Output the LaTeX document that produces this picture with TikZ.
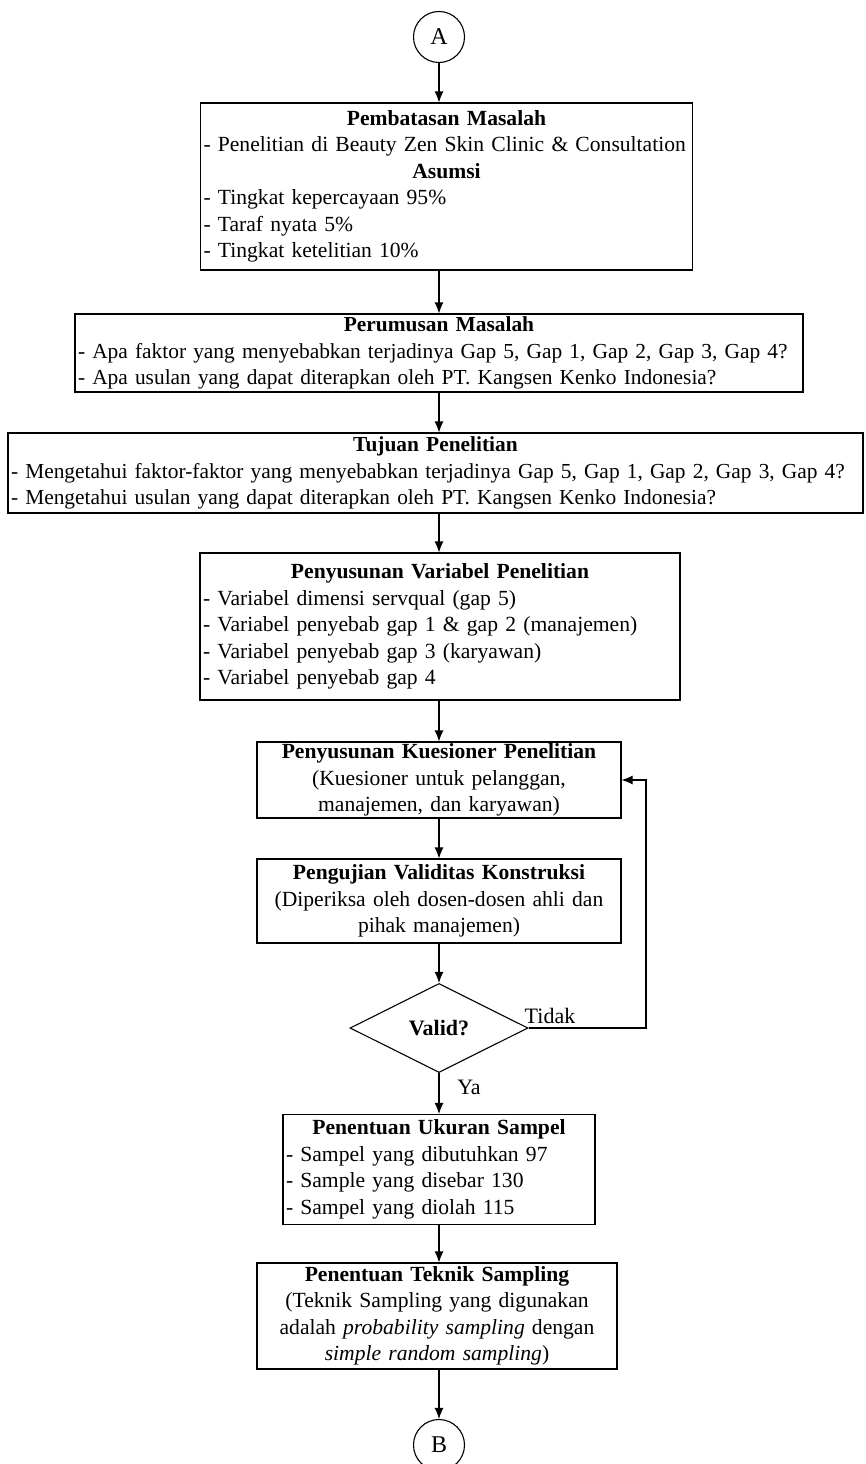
\documentclass[tikz,border=0pt]{standalone}
\usepackage{fontspec}
\setmainfont{Liberation Serif}
\usetikzlibrary{arrows.meta,shapes.geometric}
\newcommand{\judul}[1]{{\centering\textbf{#1}\par}}
\newcommand{\hurufkotak}[1]{\fontsize{#1}{26.5}\selectfont\hyphenpenalty10000\relax}

\begin{document}
\begin{tikzpicture}[x=1pt,y=-1pt,line width=1.1pt,>={Latex[length=11pt,width=9pt]},
  kotak/.style={draw,inner xsep=3pt,inner ysep=0pt,align=left,font=\hurufkotak{21.6}},
  kotaksempit/.style={kotak,font=\hurufkotak{21.4}},
  tengah/.style={kotak,align=center},
  konektor/.style={draw,circle,minimum size=51pt,inner sep=0pt,font=\hurufkotak{24}}]
  \useasboundingbox (0,0) rectangle (865,1464);
  \node[konektor] (A) at (439,37) {A};
  \node[kotak,text width=486pt,minimum height=167pt] (batas) at (446.5,186.5) {\judul{Pembatasan Masalah}- Penelitian di Beauty Zen Skin Clinic \& Consultation\par\judul{Asumsi}- Tingkat kepercayaan 95\%\\- Taraf nyata 5\%\\- Tingkat ketelitian 10\%};
  \node[kotaksempit,text width=722pt,minimum height=78pt] (rumus) at (439,353) {\judul{Perumusan Masalah}- Apa faktor yang menyebabkan terjadinya Gap 5, Gap 1, Gap 2, Gap 3, Gap 4?\\- Apa usulan yang dapat diterapkan oleh PT. Kangsen Kenko Indonesia?};
  \node[kotaksempit,text width=849pt,minimum height=80pt] (tujuan) at (435.5,473) {\judul{Tujuan Penelitian}- Mengetahui faktor-faktor yang menyebabkan terjadinya Gap 5, Gap 1, Gap 2, Gap 3, Gap 4?\\- Mengetahui usulan yang dapat diterapkan oleh PT. Kangsen Kenko Indonesia?};
  \node[kotak,text width=474pt,minimum height=147pt] (variabel) at (440,626.5) {\judul{Penyusunan Variabel Penelitian}- Variabel dimensi servqual (gap 5)\\- Variabel penyebab gap 1 \& gap 2 (manajemen)\\- Variabel penyebab gap 3 (karyawan)\\- Variabel penyebab gap 4};
  \node[tengah,text width=358pt,minimum height=76pt] (kuesioner) at (439,780) {\textbf{Penyusunan Kuesioner Penelitian}\\(Kuesioner untuk pelanggan,\\manajemen, dan karyawan)};
  \node[tengah,text width=358pt,minimum height=84pt] (uji) at (439,901) {\textbf{Pengujian Validitas Konstruksi}\\(Diperiksa oleh dosen-dosen ahli dan\\pihak manajemen)};
  \node[draw,diamond,aspect=2,minimum width=178pt,minimum height=89pt,inner sep=0pt,font=\hurufkotak{22}] (valid) at (439,1028) {\textbf{Valid?}};
  \node[font=\hurufkotak{22}] (tidak) at (550,1016) {Tidak};
  \node[font=\hurufkotak{22}] (ya) at (469,1087) {Ya};
  \node[kotak,text width=306pt,minimum height=110pt] (ukuran) at (439,1169.5) {\judul{Penentuan Ukuran Sampel}- Sampel yang dibutuhkan 97\\- Sample yang disebar 130\\- Sampel yang diolah 115};
  \node[tengah,text width=354pt,minimum height=106pt] (teknik) at (437,1316) {\textbf{Penentuan Teknik Sampling}\\(Teknik Sampling yang digunakan\\adalah \textit{probability sampling} dengan\\\textit{simple random sampling})};
  \node[konektor] (B) at (439,1445) {B};
  \coordinate (sudut) at (646,1028);
  % alur utama
  \draw[->] (A) -- (A |- batas.north);
  \draw[->] (batas.south -| A) -- (rumus.north -| A);
  \draw[->] (rumus.south -| A) -- (tujuan.north -| A);
  \draw[->] (tujuan.south -| A) -- (variabel.north -| A);
  \draw[->] (variabel.south -| A) -- (kuesioner.north -| A);
  \draw[->] (kuesioner.south -| A) -- (uji.north -| A);
  \draw[->] (uji.south -| A) -- (valid.north);
  \draw[->] (valid.south) -- (ukuran.north -| A);
  \draw[->] (ukuran.south -| A) -- (teknik.north -| A);
  \draw[->] (teknik.south -| A) -- (B);
  % umpan balik
  \draw[->] (valid.east) -- (sudut) |- (kuesioner.east);
\end{tikzpicture}
\end{document}
